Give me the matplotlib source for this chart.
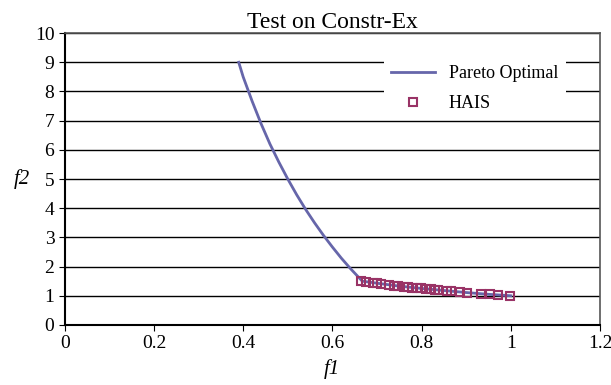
import matplotlib.pyplot as plt

# Pareto optimal front
pareto_f1 = [0.39, 0.40, 0.42, 0.44, 0.46, 0.48, 0.50, 0.52, 0.54, 0.56, 0.58,
             0.60, 0.62, 0.64, 0.667, 0.70, 0.75, 0.80, 0.85, 0.90, 0.95, 1.00]
pareto_f2 = [9.0, 8.5, 7.67, 6.9, 6.2, 5.58, 5.0, 4.46, 3.96, 3.5, 3.07,
             2.67, 2.29, 1.94, 1.5, 1.43, 1.33, 1.25, 1.18, 1.11, 1.05, 1.0]

# HAIS solutions
hais_f1 = [0.664, 0.675, 0.690, 0.701, 0.709, 0.728, 0.739, 0.748, 0.761, 0.769,
           0.779, 0.789, 0.799, 0.811, 0.821, 0.829, 0.836, 0.856, 0.867, 0.886,
           0.901, 0.933, 0.953, 0.971, 0.998]
hais_f2 = [1.51, 1.48, 1.45, 1.43, 1.41, 1.37, 1.35, 1.34, 1.31, 1.30,
           1.28, 1.27, 1.25, 1.23, 1.22, 1.21, 1.20, 1.17, 1.15, 1.13,
           1.11, 1.07, 1.05, 1.03, 1.00]

plt.rcParams['font.family'] = ['Liberation Serif', 'DejaVu Serif']

fig = plt.figure(figsize=(6.11, 3.85), dpi=100)
ax = fig.add_axes([0.106, 0.156, 0.876, 0.758])

ax.plot(pareto_f1, pareto_f2, color='#6666aa', linewidth=2, label='Pareto Optimal', zorder=3)
ax.plot(hais_f1, hais_f2, linestyle='none', marker='s', markersize=6,
        markerfacecolor='none', markeredgecolor='#993366', markeredgewidth=1.5,
        label='HAIS', zorder=4)

ax.set_xlim(0, 1.2)
ax.set_ylim(0, 10)
ax.set_xticks([0, 0.2, 0.4, 0.6, 0.8, 1, 1.2])
ax.set_xticklabels(['0', '0.2', '0.4', '0.6', '0.8', '1', '1.2'])
ax.set_yticks(range(0, 11))
ax.yaxis.grid(True, color='black', linewidth=1)
ax.set_axisbelow(True)
ax.tick_params(labelsize=14, direction='out', length=4, color='black')
for s in ['left', 'bottom']:
    ax.spines[s].set_color('black')
    ax.spines[s].set_linewidth(1.5)
for s in ['top', 'right']:
    ax.spines[s].set_color('#555555')
    ax.spines[s].set_linewidth(1.2)

ax.set_title('Test on Constr-Ex', fontsize=17, pad=4)
ax.set_xlabel('f1', fontsize=15, style='italic', va='center')
ax.xaxis.set_label_coords(0.5, -0.15)
ax.set_ylabel('f2', fontsize=15, style='italic', rotation=0, va='center', ha='center')
ax.yaxis.set_label_coords(-0.08, 0.5)

leg = fig.legend(loc='center', bbox_to_anchor=(0.777, 0.77), fontsize=13,
                 frameon=True, framealpha=1, edgecolor='white', fancybox=False,
                 labelspacing=0.7, handlelength=2.4)
leg.get_frame().set_linewidth(0)

fig.savefig('out.png', dpi=100)
